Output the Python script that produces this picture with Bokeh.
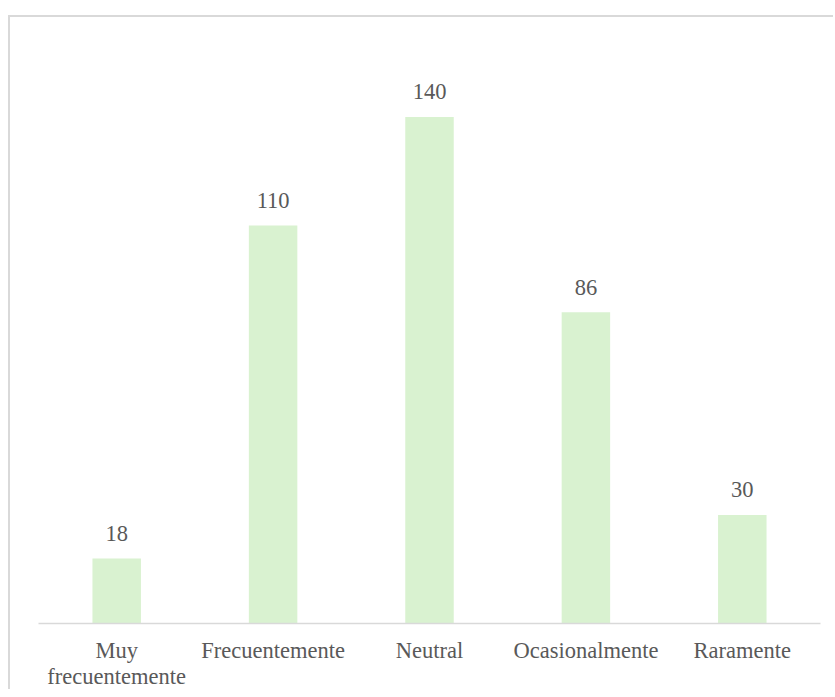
from bokeh.plotting import figure
from bokeh.models import FactorRange, Range1d, ColumnDataSource
from bokeh.core.properties import value
from bokeh.embed import file_html
from bokeh.resources import INLINE

categories = ["Muy\nfrecuentemente", "Frecuentemente", "Neutral", "Ocasionalmente", "Raramente"]
counts = [18, 110, 140, 86, 30]
count_labels = [str(v) for v in counts]

FONT = "Liberation Serif"
TEXT_COLOR = "#595959"
FS = "22.5px"

src = ColumnDataSource(dict(cat=categories, val=counts, lab=count_labels))

p = figure(
    width=825, height=674,
    x_range=FactorRange(*categories, range_padding=0),
    y_range=Range1d(0, 167.5),
    output_backend="svg", toolbar_location=None,
    y_axis_location=None,
    min_border_left=28, min_border_right=15, min_border_top=0, min_border_bottom=60,
)
p.margin = (15, 0, 0, 8)
p.styles = {"border-top": "2px solid #d9d9d9", "border-left": "2px solid #d9d9d9"}
p.outline_line_color = None
p.xgrid.grid_line_color = None
p.ygrid.grid_line_color = None

p.vbar(x="cat", top="val", width=0.31, source=src, fill_color="#D9F2D0", line_color=None)
p.text(x="cat", y="val", text="lab", source=src, y_offset=-25,
       text_align="center", text_baseline="alphabetic",
       text_font=value(FONT), text_font_size=FS, text_color=TEXT_COLOR)

ax = p.xaxis[0]
ax.axis_line_color = "#d9d9d9"
ax.axis_line_width = 1.5
ax.major_tick_line_color = None
ax.major_tick_in = 0
ax.major_tick_out = 0
ax.major_label_standoff = 14
ax.major_label_text_font = FONT
ax.major_label_text_font_size = FS
ax.major_label_text_line_height = 1.05
ax.major_label_text_color = TEXT_COLOR

open("out.html", "w").write(file_html(p, INLINE))
